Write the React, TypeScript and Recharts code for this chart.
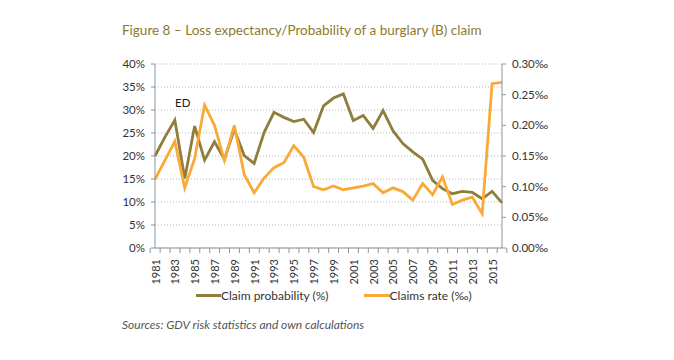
import React from "react";
import {
  LineChart, Line, XAxis, YAxis, CartesianGrid,
} from "recharts";

// years 1981..2016
const years = [
  "1981", "1982", "1983", "1984", "1985", "1986", "1987", "1988", "1989", "1990",
  "1991", "1992", "1993", "1994", "1995", "1996", "1997", "1998", "1999", "2000",
  "2001", "2002", "2003", "2004", "2005", "2006", "2007", "2008", "2009", "2010",
  "2011", "2012", "2013", "2014", "2015", "2016",
];

// claim probability in %
const claimProbability = [
  20.0, 24.1, 27.8, 15.1, 26.5, 19.1, 23.1, 19.3, 25.8, 20.1,
  18.4, 25.1, 29.5, 28.4, 27.5, 28.0, 25.1, 30.9, 32.6, 33.5,
  27.7, 28.8, 26.0, 29.9, 25.5, 22.7, 20.9, 19.3, 14.7, 12.9,
  11.8, 12.3, 12.1, 10.7, 12.3, 9.8,
];

// claims rate in per mille
const claimsRate = [
  0.112, 0.143, 0.174, 0.098, 0.146, 0.233, 0.200, 0.143, 0.200, 0.120,
  0.090, 0.114, 0.131, 0.139, 0.167, 0.148, 0.100, 0.095, 0.101, 0.095,
  0.098, 0.101, 0.105, 0.090, 0.098, 0.092, 0.078, 0.105, 0.087, 0.116,
  0.071, 0.078, 0.083, 0.056, 0.268, 0.270,
];

const leftTicks = [0, 5, 10, 15, 20, 25, 30, 35, 40];
const rightTicks = [0, 0.05, 0.1, 0.15, 0.2, 0.25, 0.3];

const data = years.map((year, i) => ({
  year,
  prob: claimProbability[i],
  rate: claimsRate[i],
}));

const OLIVE = "#8f7d3c";
const ORANGE = "#f9a935";
const AXIS = "#8d959c";
const FONT = "Lato, 'Open Sans', sans-serif";

const XTick = (props: any) => {
  const { x, y, payload, index } = props;
  const half = payload?.offset || 4.8;
  const showLabel = index % 2 === 0;
  const ty = y + 11;
  return (
    <g>
      <line x1={x - half} x2={x - half} y1={y} y2={y + 5} stroke={AXIS} />
      {index === years.length - 1 && (
        <line x1={x + half} x2={x + half} y1={y} y2={y + 5} stroke={AXIS} />
      )}
      {showLabel && (
        <text
          x={x}
          y={ty}
          transform={`rotate(-90, ${x}, ${ty})`}
          textAnchor="end"
          dominantBaseline="central"
          fontSize={11}
          fill="#333"
          fontFamily={FONT}
        >
          {payload.value}
        </text>
      )}
    </g>
  );
};

export default function App() {
  return (
    <div style={{ position: "absolute", left: 0, top: 0, width: 674, height: 360, background: "#fff", fontFamily: FONT }}>
      <div style={{ position: "absolute", left: 122, top: 22, fontSize: 13.5, color: "#8c7a2c", whiteSpace: "nowrap" }}>
        Figure 8 – Loss expectancy/Probability of a burglary (B) claim
      </div>
      <LineChart
        width={674}
        height={360}
        data={data}
        margin={{ top: 64, right: 112, bottom: 67, left: 95 }}
      >
        <CartesianGrid vertical={false} stroke="#b5b5b5" strokeDasharray="1 2" yAxisId="left" />
        <XAxis
          dataKey="year"
          interval={0}
          tick={<XTick />}
          tickLine={false}
          tickSize={0}
          tickMargin={0}
          height={45}
          axisLine={{ stroke: AXIS }}
        />
        <YAxis
          yAxisId="left"
          domain={[0, 40]}
          ticks={leftTicks}
          tickFormatter={(v) => `${v}%`}
          width={60}
          tickSize={4}
          tickMargin={6}
          tick={{ fontSize: 11.5, fill: "#333", fontFamily: FONT }}
          tickLine={{ stroke: AXIS }}
          axisLine={{ stroke: AXIS }}
        />
        <YAxis
          yAxisId="right"
          orientation="right"
          domain={[0, 0.3]}
          ticks={rightTicks}
          tickFormatter={(v) => `${Number(v).toFixed(2)}‰`}
          width={60}
          tickSize={4}
          tickMargin={6}
          tick={{ fontSize: 11.5, fill: "#333", fontFamily: FONT, textAnchor: "start" }}
          tickLine={{ stroke: AXIS }}
          axisLine={{ stroke: AXIS }}
        />
        <Line
          yAxisId="left"
          dataKey="prob"
          stroke={OLIVE}
          strokeWidth={2.8}
          dot={false}
          type="linear"
          isAnimationActive={false}
        />
        <Line
          yAxisId="right"
          dataKey="rate"
          stroke={ORANGE}
          strokeWidth={2.8}
          dot={false}
          type="linear"
          isAnimationActive={false}
        />
      </LineChart>
      <div style={{ position: "absolute", left: 175, top: 96, fontSize: 11.5, color: "#222" }}>ED</div>
      <div style={{ position: "absolute", left: 196, top: 288, fontSize: 12, color: "#333", display: "flex", alignItems: "center", whiteSpace: "nowrap" }}>
        <span style={{ display: "inline-block", width: 25, height: 3, background: OLIVE }} />
        <span>Claim probability (%)</span>
        <span style={{ display: "inline-block", width: 26, height: 3, background: ORANGE, marginLeft: 35 }} />
        <span>Claims rate (‰)</span>
      </div>
      <div style={{ position: "absolute", left: 122, top: 317, fontSize: 12, color: "#555", fontStyle: "italic", whiteSpace: "nowrap" }}>
        Sources: GDV risk statistics and own calculations
      </div>
    </div>
  );
}
